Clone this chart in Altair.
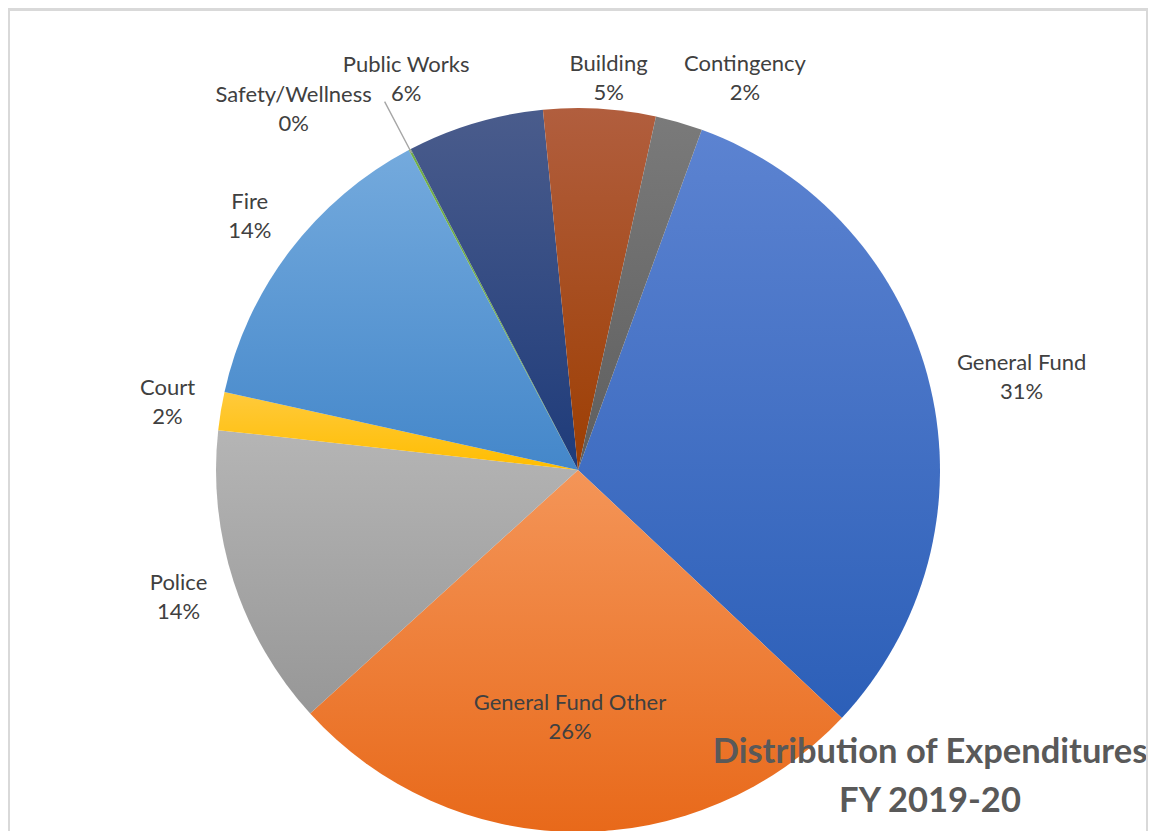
import math
import altair as alt
import pandas as pd

# ---- data ----
categories = ["General Fund", "General Fund Other", "Police", "Court", "Fire",
              "Safety/Wellness", "Public Works", "Building", "Contingency"]
shares = [31.45, 26.25, 13.5, 1.7, 13.8, 0.1, 6.1, 5.0, 2.1]
pct_labels = ["31%", "26%", "14%", "2%", "14%", "0%", "6%", "5%", "2%"]
colors_top = ["#5C83D1", "#F49558", "#B5B5B5", "#FFCA3C", "#74AADD",
              "#70AD47", "#4A5C8C", "#B15E3E", "#7A7A7A"]
colors_bottom = ["#2C5FB8", "#E8691A", "#979797", "#FFBD00", "#4487CA",
                 "#70AD47", "#1E3B7A", "#9D3E02", "#5E5E5E"]
title_lines = ["Distribution of Expenditures", "FY 2019-20"]

df = pd.DataFrame({
    "category": categories,
    "share": shares,
    "pct": pct_labels,
    "order": list(range(len(categories))),
})

TOTAL = sum(shares)
START = math.radians(20.0)
CX, CY, R = 570, 462, 362
W, H = 1140, 823
FONT = "Lato"
LABEL_COLOR = "#404040"

theta_scale = alt.Scale(domain=[0, TOTAL], range=[START, START + 2 * math.pi])

base = alt.Chart(df).transform_window(
    cum="sum(share)", sort=[alt.SortField("order")], frame=[None, 0]
).transform_calculate(
    start="datum.cum - datum.share",
    mid="datum.cum - datum.share / 2",
    label="datum.category + '\\n' + datum.pct",
)

slice_layers = []
for cat, ctop, cbot in zip(categories, colors_top, colors_bottom):
    slice_layers.append(
        base.transform_filter(alt.datum.category == cat).mark_arc(
            outerRadius=R,
            fill={
                "gradient": "linear", "x1": 0, "y1": 0, "x2": 0, "y2": 1,
                "stops": [
                    {"offset": 0, "color": ctop},
                    {"offset": 1, "color": cbot},
                ],
            },
        ).encode(
            theta=alt.Theta("start:Q", scale=theta_scale, stack=None),
            theta2="cum:Q",
            x=alt.value(CX),
            y=alt.value(CY),
        )
    )

leader = base.transform_filter(alt.datum.category == "Safety/Wellness").mark_arc(
    innerRadius=R - 4, outerRadius=R + 54, stroke="#A6A6A6", strokeWidth=1.4,
    fillOpacity=0,
).encode(
    theta=alt.Theta("mid:Q", scale=theta_scale, stack=None),
    theta2="mid:Q",
    x=alt.value(CX),
    y=alt.value(CY),
)

# label placement: radius from centre, extra dx / dy nudges (dy of the first line)
placement = {
    "General Fund": (454, 2, -2),
    "General Fund Other": (247, -6, -14),
    "Police": (420, 0, -17),
    "Court": (416, 0, -14),
    "Fire": (415, 2, -17),
    "Safety/Wellness": (416, -91, -7),
    "Public Works": (428, -50, 5),
    "Building": (393, 7, -14),
    "Contingency": (426, 48, 3),
}

text_layers = []
for cat, (rad, ddx, ddy) in placement.items():
    text_layers.append(
        base.transform_filter(alt.datum.category == cat).mark_text(
            radius=rad, dx=ddx, dy=ddy, font=FONT, fontSize=22,
            color=LABEL_COLOR, lineBreak="\n", lineHeight=29,
            align="center", baseline="middle",
        ).encode(
            theta=alt.Theta("mid:Q", scale=theta_scale, stack=None),
            text="label:N",
            x=alt.value(CX),
            y=alt.value(CY),
        )
    )

title_df = pd.DataFrame({"t": ["\n".join(title_lines)]})
title = alt.Chart(title_df).mark_text(
    font=FONT, fontSize=34.5, fontWeight="bold", color="#595959",
    lineBreak="\n", lineHeight=49, align="center", baseline="middle",
).encode(text="t:N", x=alt.value(922), y=alt.value(745))

border_df = pd.DataFrame({"k": [0]})
top_rule = alt.Chart(border_df).mark_rule(color="#D9D9D9", strokeWidth=3).encode(
    x=alt.value(0), x2=alt.value(W), y=alt.value(1.5))
left_rule = alt.Chart(border_df).mark_rule(color="#D9D9D9", strokeWidth=2).encode(
    x=alt.value(1), y=alt.value(0), y2=alt.value(H))
right_rule = alt.Chart(border_df).mark_rule(color="#D9D9D9", strokeWidth=2).encode(
    x=alt.value(W - 1), y=alt.value(0), y2=alt.value(H))

chart = alt.layer(
    *slice_layers, leader, *text_layers, title, top_rule, left_rule, right_rule
).properties(
    width=W, height=H, padding=0, autosize=alt.AutoSizeParams(type="none"),
    background="white",
).configure_view(stroke=None)

chart.save("out.html", embed_options={"renderer": "svg", "actions": False})
